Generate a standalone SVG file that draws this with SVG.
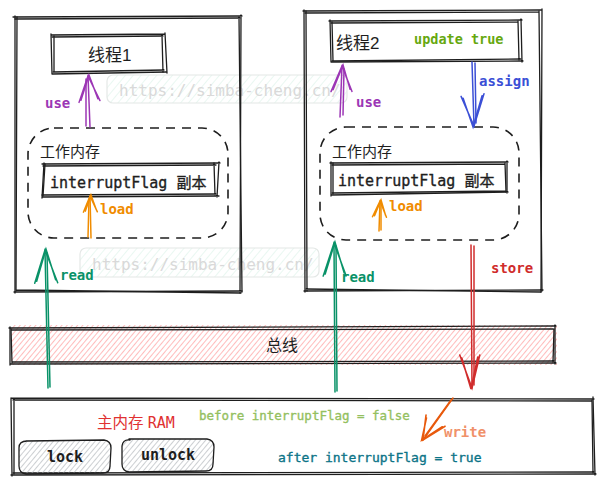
<svg xmlns="http://www.w3.org/2000/svg" width="601" height="484" viewBox="0 0 601 484">
<defs>
<style>
.sk{fill:none;stroke:#1e1e1e;stroke-width:1.3;stroke-linecap:round;stroke-linejoin:round}
.dash{fill:none;stroke:#1e1e1e;stroke-width:1.6;stroke-dasharray:9 7}
.mono{font-family:"DejaVu Sans Mono","Liberation Mono","Noto Sans CJK SC",monospace}
.cjk{font-family:"Liberation Sans","Noto Sans CJK SC",sans-serif}
.lbl{font-family:"DejaVu Sans Mono","Liberation Mono",monospace;font-size:14px;font-weight:bold}
.wm{font-family:"DejaVu Sans Mono","Liberation Mono",monospace;font-size:16px;fill:#d9d9d9}
.ar{fill:none;stroke-width:1.5;stroke-linecap:round;stroke-linejoin:round}
.thick{stroke-width:0.35}
</style>
<pattern id="hRed" patternUnits="userSpaceOnUse" width="4" height="4" patternTransform="rotate(40)">
<line x1="0" y1="0" x2="0" y2="4" stroke="#ff6b6b" stroke-width="1.3"/>
</pattern>
<pattern id="hGreen" patternUnits="userSpaceOnUse" width="6" height="6" patternTransform="rotate(40)">
<line x1="0" y1="0" x2="0" y2="6" stroke="#d3efe3" stroke-width="1"/>
</pattern>
<pattern id="hGrey" patternUnits="userSpaceOnUse" width="4" height="4" patternTransform="rotate(40)">
<line x1="0" y1="0" x2="0" y2="4" stroke="#a9aeb3" stroke-width="1.2"/>
</pattern>
<marker id="mPurple" markerUnits="userSpaceOnUse" markerWidth="40" markerHeight="40" refX="0" refY="0" viewBox="-30 -20 40 40" orient="auto" overflow="visible">
<path d="M-26,-10 L0,0 L-25,11 M-24,-8 L1,1 L-23,9" fill="none" stroke="#9c36b5" stroke-width="1.5" stroke-linecap="round"/>
</marker>
<marker id="mOrange" markerUnits="userSpaceOnUse" markerWidth="40" markerHeight="40" refX="0" refY="0" viewBox="-30 -20 40 40" orient="auto" overflow="visible">
<path d="M-16,-7 L0,0 L-16,7 M-15,-5 L1,1 L-14,6" fill="none" stroke="#f08c00" stroke-width="1.5" stroke-linecap="round"/>
</marker>
<marker id="mGreen" markerUnits="userSpaceOnUse" markerWidth="40" markerHeight="40" refX="0" refY="0" viewBox="-30 -20 40 40" orient="auto" overflow="visible">
<path d="M-33,-11 L0,0 L-33,12 M-31,-9 L1,1 L-30,10" fill="none" stroke="#099268" stroke-width="1.5" stroke-linecap="round"/>
</marker>
<marker id="mBlue" markerUnits="userSpaceOnUse" markerWidth="40" markerHeight="40" refX="0" refY="0" viewBox="-30 -20 40 40" orient="auto" overflow="visible">
<path d="M-32,-11 L0,0 L-30,12 M-30,-9 L1,1 L-28,10" fill="none" stroke="#3b4fd6" stroke-width="1.5" stroke-linecap="round"/>
</marker>
<marker id="mRed" markerUnits="userSpaceOnUse" markerWidth="40" markerHeight="40" refX="0" refY="0" viewBox="-30 -20 40 40" orient="auto" overflow="visible">
<path d="M-33,-8 L0,0 L-33,12 M-31,-6 L1,1 L-30,10" fill="none" stroke="#d02c2c" stroke-width="1.6" stroke-linecap="round"/>
</marker>
<marker id="mWrite" markerUnits="userSpaceOnUse" markerWidth="40" markerHeight="40" refX="0" refY="0" viewBox="-30 -20 40 40" orient="auto" overflow="visible">
<path d="M-24,-10 L0,0 L-22,12 M-22,-8 L1,1 L-20,10" fill="none" stroke="#e8590c" stroke-width="1.6" stroke-linecap="round"/>
</marker>
</defs>

<!-- watermarks -->
<g id="watermarks">
<rect x="107" y="75" width="240" height="28" rx="6" fill="url(#hGreen)" stroke="#e4e8e6" stroke-width="1.2"/>
<text class="wm" x="119" y="96">https://simba-cheng.cn/</text>
<rect x="80" y="248" width="239" height="29" rx="6" fill="url(#hGreen)" stroke="#e4e8e6" stroke-width="1.2"/>
<text class="wm" x="92" y="270">https://simba-cheng.cn/</text>
</g>

<g id="thread1-container">
<path class="sk" d="M13,17 L242,16 M241,15 L240,293 M242,291 L14,292 M15,293 L15,16"/>
<path class="sk" d="M15,19 L240,18 M239,17 L242,292 M241,293 L16,290 M16,291 L17,17"/>
</g>

<g id="thread1">
<path class="sk" d="M51,35 L165,34 M165,33 L167,73 M166,72 L52,74 M52,74 L51,34"/>
<path class="sk" d="M52,37 L163,36 M162,35 L163,72 M164,70 L53,72 M54,72 L54,36"/>
<text class="cjk" x="88" y="61" font-size="17" fill="#1e1e1e">线程1</text>
</g>

<g id="workmem1">
<rect class="dash" x="28" y="128" width="200" height="110" rx="26"/>
<text class="cjk" x="40" y="157" font-size="15" fill="#1e1e1e">工作内存</text>
</g>

<g id="flag1">
<path class="sk" d="M42,164 L220,163 M219,162 L217,197 M219,196 L43,197 M42,198 L44,163"/>
<path class="sk" d="M43,166 L216,165 M214,163 L215,195 M216,194 L42,195 M43,196 L45,164"/>
<text class="mono thick" x="50" y="188" font-size="15" fill="#1e1e1e" stroke="#1e1e1e">interruptFlag 副本</text>
</g>

<g id="thread2-container">
<path class="sk" d="M303,11 L541,10 M542,9 L541,292 M543,290 L304,291 M305,292 L304,10"/>
<path class="sk" d="M305,13 L539,12 M539,11 L542,291 M541,292 L306,289 M307,291 L306,11"/>
</g>

<g id="thread2">
<path class="sk" d="M329,21 L522,20 M521,19 L522,62 M523,61 L331,62 M331,62 L330,20"/>
<path class="sk" d="M331,23 L518,22 M518,21 L519,60 M521,59 L332,61 M333,61 L332,22"/>
<text class="cjk" x="336" y="49" font-size="17" fill="#1e1e1e">线程2</text>
<text class="mono" x="414" y="44" font-size="13.5" font-weight="bold" fill="#66a80f">update true</text>
</g>

<g id="workmem2">
<rect class="dash" x="320" y="127" width="199" height="113" rx="26"/>
<text class="cjk" x="332" y="157" font-size="15" fill="#1e1e1e">工作内存</text>
</g>

<g id="flag2">
<path class="sk" d="M330,163 L508,162 M507,161 L507,193 M508,192 L331,195 M331,196 L331,162"/>
<path class="sk" d="M332,165 L505,164 M505,163 L506,192 M506,191 L332,193 M333,194 L333,163"/>
<text class="mono thick" x="338" y="186" font-size="15" fill="#1e1e1e" stroke="#1e1e1e">interruptFlag 副本</text>
</g>

<g id="bus">
<rect x="11" y="325" width="546" height="40" fill="url(#hRed)" opacity="0.7"/>
<path class="sk" d="M9,328 L556,326 M555,325 L555,364 M556,363 L10,364 M10,365 L10,327"/>
<path class="sk" d="M11,330 L553,329 M554,329 L553,362 M554,361 L12,362 M12,363 L11,329"/>
<text class="cjk" x="282" y="351" font-size="16" text-anchor="middle" fill="#1e1e1e">总线</text>
</g>

<g id="ram">
<path class="sk" d="M11,398 L594,399 M593,397 L595,475 M596,474 L11,475 M12,476 L11,398"/>
<path class="sk" d="M13,400 L592,401 M592,400 L593,473 M594,472 L13,473 M14,474 L14,399"/>
<text x="97" y="428" fill="#e03131"><tspan class="cjk" font-size="15.5">主内存 </tspan><tspan class="mono" font-size="15">RAM</tspan></text>
<text class="mono thick" x="199" y="420" font-size="12.5" fill="#94c060" stroke="#94c060">before interruptFlag = false</text>
<text class="mono thick" x="278" y="462" font-size="13" fill="#0c7487" stroke="#0c7487">after interruptFlag = true</text>
</g>

<g id="lock">
<rect x="19" y="441" width="92" height="32" rx="8" fill="url(#hGrey)"/>
<path class="sk" d="M26,441 L104,440 Q111,441 111,448 L110,466 Q110,473 103,473 L26,474 Q19,473 19,466 L19,448 Q19,441 27,441"/>
<text class="mono" x="65" y="462" font-size="15" font-weight="bold" text-anchor="middle" fill="#1e1e1e">lock</text>
</g>

<g id="unlock">
<rect x="122" y="439" width="92" height="32" rx="8" fill="url(#hGrey)"/>
<path class="sk" d="M129,439 L207,439 Q214,440 214,447 L213,464 Q213,471 206,471 L129,472 Q122,471 122,464 L122,446 Q123,439 130,440"/>
<text class="mono" x="168" y="460" font-size="15" font-weight="bold" text-anchor="middle" fill="#1e1e1e">unlock</text>
</g>

<g id="connectors">
<path class="ar" stroke="#9c36b5" d="M90,127 L88,76" marker-end="url(#mPurple)"/>
<path class="ar" stroke="#9c36b5" d="M86,126 L86,79"/>
<path class="ar" stroke="#f08c00" d="M91,238 L90,196" marker-end="url(#mOrange)"/>
<path class="ar" stroke="#f08c00" d="M88,237 L89,199"/>
<path class="ar" stroke="#099268" d="M48,388 L45,250" marker-end="url(#mGreen)"/>
<path class="ar" stroke="#099268" d="M50,387 L47,253"/>
<path class="ar" stroke="#9c36b5" d="M340,117 L342,66" marker-end="url(#mPurple)"/>
<path class="ar" stroke="#9c36b5" d="M343,115 L344,69"/>
<path class="ar" stroke="#3b4fd6" d="M472,62 L474,126" marker-end="url(#mBlue)"/>
<path class="ar" stroke="#3b4fd6" d="M475,63 L476,123"/>
<path class="ar" stroke="#f08c00" d="M379,231 L380,201" marker-end="url(#mOrange)"/>
<path class="ar" stroke="#f08c00" d="M381,230 L381,204"/>
<path class="ar" stroke="#099268" d="M335,392 L334,243" marker-end="url(#mGreen)"/>
<path class="ar" stroke="#099268" d="M337,391 L336,246"/>
<path class="ar" stroke="#d02c2c" d="M471,245 L472,388" marker-end="url(#mRed)"/>
<path class="ar" stroke="#d02c2c" d="M474,246 L474,385"/>
<path class="ar" stroke="#e8590c" d="M453,398 L423,440" marker-end="url(#mWrite)"/>
<path class="ar" stroke="#e8590c" d="M451,400 L425,436"/>
<text class="lbl" x="45" y="108" fill="#9c36b5">use</text>
<text class="lbl" x="100" y="214" fill="#f08c00">load</text>
<text class="lbl" x="60" y="280" fill="#099268">read</text>
<text class="lbl" x="356" y="107" fill="#9c36b5">use</text>
<text class="lbl" x="479" y="86" fill="#3b4fd6">assign</text>
<text class="lbl" x="389" y="211" fill="#f08c00">load</text>
<text class="lbl" x="341" y="282" fill="#099268">read</text>
<text class="lbl" x="491" y="273" font-size="15" fill="#d02c2c">store</text>
<text class="lbl" x="444" y="437" font-size="15" fill="#f0916a">write</text>
</g>
</svg>
